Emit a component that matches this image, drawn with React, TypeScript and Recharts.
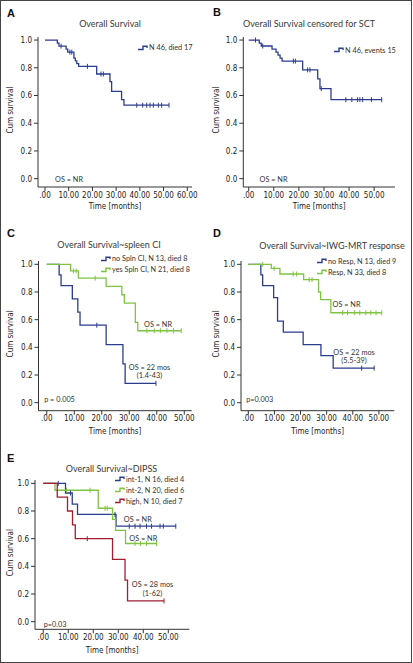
import React from "react";
import { ComposedChart, Line, Scatter, XAxis, YAxis } from "recharts";

// ── Colours & fonts ───────────────────────────────────────

const BLUE = "#2d3d8e";
const GREEN = "#80c342";
const RED = "#a11d32";
const AXIS = "#333";
const NARROW = "'Liberation Sans Narrow', 'DejaVu Sans Condensed', 'Roboto', sans-serif";
const SANS = "Lato, 'Open Sans', sans-serif";

// ── Data (event times / survival after event / censor times) ──

// A: overall survival
const aTimes = [5.2, 5.9, 8.9, 9.6, 12.2, 12.8, 13.4, 14.2, 21.8, 27.4, 28.1, 32.3, 33.3];
const aSurv = [0.978, 0.956, 0.935, 0.913, 0.87, 0.85, 0.83, 0.81, 0.755, 0.7, 0.63, 0.57, 0.53];
const aCensor = [6.8, 10.5, 11.3, 17.9, 23.6, 24.6, 38.7, 41.2, 42.9, 44.3, 45.7, 47.8, 49.2, 52.3];

// B: overall survival censored for SCT
const bTimes = [4.2, 5.0, 9.3, 10.9, 11.7, 12.5, 13.3, 21.5, 27.5, 28.4, 32.8];
const bSurv = [0.978, 0.957, 0.935, 0.913, 0.891, 0.87, 0.848, 0.785, 0.72, 0.65, 0.57];
const bCensor = [2.7, 5.6, 17.8, 18.6, 23.5, 24.4, 28.9, 38.7, 41.1, 43.4, 44.3, 45.4, 48.9, 53];

// C: spleen CI
const cNoTimes = [4.5, 5.2, 9.3, 11.3, 12.1, 21.6, 27.7, 28.5];
const cNoSurv = [0.923, 0.846, 0.75, 0.655, 0.56, 0.42, 0.28, 0.14];
const cNoCensor = [18.2, 39.7];
const cYesTimes = [8.7, 11.5, 21.6, 27.3, 28.2, 32.2, 33.1];
const cYesSurv = [0.952, 0.9, 0.84, 0.78, 0.72, 0.58, 0.52];
const cYesCensor = [9.7, 10.7, 17.6, 36.4, 39.1, 41.3, 43.7, 46.1, 48.9];

// D: IWG-MRT response
const dNoTimes = [4.8, 5.5, 9.7, 11.2, 13.4, 21.0, 27.8, 32.5];
const dNoSurv = [0.923, 0.846, 0.76, 0.59, 0.51, 0.42, 0.34, 0.25];
const dNoCensor = [43.4, 48.2];
const dYesTimes = [8.8, 12.1, 21.2, 26.9, 27.7, 31.6];
const dYesSurv = [0.97, 0.93, 0.89, 0.8, 0.745, 0.65];
const dYesCensor = [5.5, 9.9, 17.2, 18.5, 23.3, 24.4, 36.1, 38.0, 40.6, 42.7, 45.0, 46.9, 48.9, 51.1];

// E: DIPSS
const eInt1Times = [8.9, 11.6, 13.7, 29.1];
const eInt1Surv = [0.93, 0.85, 0.775, 0.69];
const eInt1Censor = [6.0, 10.9, 28.7, 34.4, 36.7, 38.7, 41.3, 43.3, 46.7, 48.0, 53.0];
const eInt2Times = [4.7, 22.0, 27.7, 28.9, 32.9];
const eInt2Surv = [0.95, 0.82, 0.74, 0.66, 0.565];
const eInt2Censor = [9.3, 18.7, 24.7, 25.6, 36.7, 38.9, 41.3, 45.3];
const eHighTimes = [5.6, 9.7, 11.7, 12.8, 27.7, 32.7, 33.7];
const eHighSurv = [0.9, 0.8, 0.7, 0.6, 0.45, 0.3, 0.15];
const eHighCensor = [17.6, 48.3];

const ticks60 = [0, 10, 20, 30, 40, 50, 60];
const ticks50 = [0, 10, 20, 30, 40, 50];
const yTicks = [0, 0.2, 0.4, 0.6, 0.8, 1.0];

// ── Types ─────────────────────────────────────────────────

interface Pt {
  t: number;
  s: number;
}

interface Series {
  name?: string;
  color: string;
  steps: Pt[];
  censors: Pt[];
}

interface Note {
  text: string;
  x: number;
  y: number;
}

interface PanelProps {
  letter: string;
  title: string;
  titleX: number;
  titleY: number;
  letterY: number;
  left: number;
  top: number;
  width: number;
  height: number;
  plotTop: number;
  yAxisWidth: number;
  right: number;
  xAxisHeight: number;
  xDomain: [number, number];
  yDomain: [number, number];
  xTicks: number[];
  labelOffset: number;
  series: Series[];
  legendX: number;
  legendY: number;
  notes: Note[];
}

// ── Helpers ───────────────────────────────────────────────

const buildSeries = (
  color: string,
  times: number[],
  surv: number[],
  censor: number[],
  name?: string
): Series => {
  const steps: Pt[] = [{ t: 0, s: 1 }, ...times.map((t, i) => ({ t, s: surv[i] }))];
  const end = Math.max(...censor, ...times);
  if (end > steps[steps.length - 1].t) steps.push({ t: end, s: surv[surv.length - 1] });
  const valueAt = (t: number) => steps.reduce((acc, p) => (p.t <= t ? p.s : acc), 1);
  return { name, color, steps, censors: censor.map((t) => ({ t, s: valueAt(t) })) };
};

const fmtX = (v: number) => (v === 0 ? ".00" : v.toFixed(2));
const fmtY = (v: number) => v.toFixed(1);

const tickStyle = { fontSize: 8, fill: "#222", fontFamily: NARROW };

// ── Sub-components ────────────────────────────────────────

const LegendIcon = ({ color }: { color: string }) => (
  <svg width={10} height={6} style={{ display: "block" }}>
    <path d="M0 4.5 H5 V1.2 H9 V3" fill="none" stroke={color} strokeWidth={1.4} />
  </svg>
);

const Panel = (p: PanelProps) => {
  const renderYLabel = (props: any) => {
    const vb = props.viewBox;
    const x = vb.x + 10.5;
    const y = vb.y + vb.height / 2 - 2;
    return (
      <text
        x={x}
        y={y}
        transform={`rotate(-90 ${x} ${y})`}
        textAnchor="middle"
        dominantBaseline="central"
        fontSize={8}
        fontFamily={NARROW}
        fill="#222"
      >
        Cum survival
      </text>
    );
  };

  const renderXLabel = (props: any) => {
    const vb = props.viewBox;
    return (
      <text
        x={vb.x + vb.width / 2}
        y={vb.y + p.labelOffset}
        textAnchor="middle"
        dominantBaseline="hanging"
        fontSize={8}
        fontFamily={NARROW}
        fill="#222"
      >
        Time [months]
      </text>
    );
  };

  return (
    <div style={{ position: "absolute", left: p.left, top: p.top, width: p.width, height: p.height }}>
      <ComposedChart
        width={p.width}
        height={p.height}
        margin={{ top: p.plotTop, right: p.right, bottom: 0, left: 0 }}
      >
        <XAxis
          dataKey="t"
          type="number"
          domain={p.xDomain}
          ticks={p.xTicks}
          allowDataOverflow
          height={p.xAxisHeight}
          tickSize={4}
          tickMargin={1}
          tickFormatter={fmtX}
          tick={tickStyle}
          stroke={AXIS}
          label={{ content: renderXLabel }}
        />
        <YAxis
          dataKey="s"
          type="number"
          domain={p.yDomain}
          ticks={yTicks}
          allowDataOverflow
          width={p.yAxisWidth}
          tickSize={4}
          tickMargin={2}
          tickFormatter={fmtY}
          tick={tickStyle}
          stroke={AXIS}
          label={{ content: renderYLabel }}
        />
        {p.series.map((s, i) => (
          <Line
            key={`l${i}`}
            data={s.steps}
            dataKey="s"
            type="stepAfter"
            stroke={s.color}
            strokeWidth={1.3}
            dot={false}
            activeDot={false}
            isAnimationActive={false}
          />
        ))}
        {p.series.map((s, i) => (
          <Scatter
            key={`c${i}`}
            data={s.censors}
            dataKey="s"
            isAnimationActive={false}
            shape={(c: any) => (
              <line x1={c.cx} x2={c.cx} y1={c.cy - 2.5} y2={c.cy + 2.5} stroke={s.color} strokeWidth={1} />
            )}
          />
        ))}
      </ComposedChart>

      <div
        style={{
          position: "absolute",
          left: 7,
          top: p.letterY,
          transform: "translateY(-50%)",
          fontFamily: "'Liberation Sans', Arial, sans-serif",
          fontWeight: 700,
          fontSize: 11,
          color: "#111",
        }}
      >
        {p.letter}
      </div>
      <div
        style={{
          position: "absolute",
          left: p.titleX,
          top: p.titleY,
          transform: "translate(-50%, -50%)",
          whiteSpace: "nowrap",
          fontFamily: SANS,
          fontWeight: 400,
          fontSize: 9,
          color: "#3a3a3a",
        }}
      >
        {p.title}
      </div>

      {p.series.some((s) => s.name) && (
        <div style={{ position: "absolute", left: p.legendX, top: p.legendY }}>
          {p.series.map((s, i) => (
            <div
              key={i}
              style={{
                display: "flex",
                alignItems: "center",
                gap: 1,
                height: 11,
                fontFamily: SANS,
                fontSize: 7.3,
                color: "#333",
                whiteSpace: "nowrap",
              }}
            >
              <LegendIcon color={s.color} />
              <span>{s.name}</span>
            </div>
          ))}
        </div>
      )}

      {p.notes.map((n, i) => (
        <div
          key={i}
          style={{
            position: "absolute",
            left: n.x,
            top: n.y,
            transform: "translate(-50%, -50%)",
            whiteSpace: "nowrap",
            fontFamily: SANS,
            fontSize: 7.3,
            color: "#333",
          }}
        >
          {n.text}
        </div>
      ))}
    </div>
  );
};

// ── Component ─────────────────────────────────────────────

export default function App() {
  const yTop: [number, number] = [-0.06, 1.022];
  const yMid: [number, number] = [-0.058, 1.024];
  const yLow: [number, number] = [-0.055, 1.024];

  return (
    <div style={{ position: "absolute", left: 0, top: 0, width: 413, height: 663, background: "#fff" }}>
      <Panel
        letter="A"
        letterY={13}
        title="Overall Survival"
        titleX={110}
        titleY={23}
        left={0}
        top={0}
        width={206}
        height={215}
        plotTop={37}
        yAxisWidth={38}
        right={14}
        xAxisHeight={28}
        xDomain={[-2.95, 62]}
        yDomain={yTop}
        xTicks={ticks60}
        labelOffset={16.5}
        series={[buildSeries(BLUE, aTimes, aSurv, aCensor, "N 46, died 17")]}
        legendX={138}
        legendY={42}
        notes={[{ text: "OS = NR", x: 69, y: 179 }]}
      />
      <Panel
        letter="B"
        letterY={12}
        title="Overall Survival censored for SCT"
        titleX={103}
        titleY={23}
        left={206}
        top={0}
        width={206}
        height={215}
        plotTop={37}
        yAxisWidth={37.3}
        right={17}
        xAxisHeight={28}
        xDomain={[-2.15, 58.3]}
        yDomain={yTop}
        xTicks={ticks50}
        labelOffset={16.5}
        series={[buildSeries(BLUE, bTimes, bSurv, bCensor, "N 46, events 15")]}
        legendX={128}
        legendY={44.5}
        notes={[{ text: "OS = NR", x: 67.5, y: 179 }]}
      />
      <Panel
        letter="C"
        letterY={18}
        title="Overall Survival~spleen CI"
        titleX={109}
        titleY={29}
        left={0}
        top={215}
        width={206}
        height={220}
        plotTop={46}
        yAxisWidth={38.5}
        right={14.3}
        xAxisHeight={24.3}
        xDomain={[-3, 52.7]}
        yDomain={yMid}
        xTicks={ticks50}
        labelOffset={17.8}
        series={[
          buildSeries(BLUE, cNoTimes, cNoSurv, cNoCensor, "no Spln CI, N 13, died 8"),
          buildSeries(GREEN, cYesTimes, cYesSurv, cYesCensor, "yes Spln CI, N 21, died 8"),
        ]}
        legendX={101}
        legendY={38}
        notes={[
          { text: "OS = NR", x: 158, y: 109 },
          { text: "OS = 22 mos", x: 149.5, y: 151.7 },
          { text: "(1.4-43)", x: 149.5, y: 160 },
          { text: "p = 0.005", x: 59.5, y: 184.3 },
        ]}
      />
      <Panel
        letter="D"
        letterY={18.3}
        title="Overall Survival~IWG-MRT response"
        titleX={126}
        titleY={30}
        left={206}
        top={215}
        width={206}
        height={220}
        plotTop={46}
        yAxisWidth={35}
        right={17.7}
        xAxisHeight={24.3}
        xDomain={[-2.8, 55.9]}
        yDomain={yMid}
        xTicks={ticks50}
        labelOffset={17.8}
        series={[
          buildSeries(BLUE, dNoTimes, dNoSurv, dNoCensor, "no Resp, N 13, died 9"),
          buildSeries(GREEN, dYesTimes, dYesSurv, dYesCensor, "Resp, N 33, died 8"),
        ]}
        legendX={111}
        legendY={40.5}
        notes={[
          { text: "OS = NR", x: 140.5, y: 89.3 },
          { text: "OS = 22 mos", x: 148, y: 136.7 },
          { text: "(5.5-39)", x: 148, y: 145 },
          { text: "p=0.003", x: 53.7, y: 184.3 },
        ]}
      />
      <Panel
        letter="E"
        letterY={32.7}
        title="Overall Survival~DIPSS"
        titleX={111.5}
        titleY={42.7}
        left={0}
        top={425}
        width={206}
        height={236}
        plotTop={55}
        yAxisWidth={35}
        right={16.7}
        xAxisHeight={31.7}
        xDomain={[-3.3, 58.4]}
        yDomain={yLow}
        xTicks={ticks50}
        labelOffset={18.2}
        series={[
          buildSeries(BLUE, eInt1Times, eInt1Surv, eInt1Censor, "int-1, N 16, died 4"),
          buildSeries(GREEN, eInt2Times, eInt2Surv, eInt2Censor, "int-2, N 20, died 6"),
          buildSeries(RED, eHighTimes, eHighSurv, eHighCensor, "high, N 10, died 7"),
        ]}
        legendX={115}
        legendY={48.8}
        notes={[
          { text: "OS = NR", x: 137.8, y: 94 },
          { text: "OS = NR", x: 143.3, y: 112.7 },
          { text: "OS = 28 mos", x: 152.5, y: 159.3 },
          { text: "(1-62)", x: 152.5, y: 168.3 },
          { text: "p=0.03", x: 55, y: 198.7 },
        ]}
      />
      <div
        style={{
          position: "absolute",
          left: 0,
          top: 0,
          width: 412,
          height: 663,
          boxSizing: "border-box",
          border: "1.5px solid #444",
          pointerEvents: "none",
        }}
      />
    </div>
  );
}
